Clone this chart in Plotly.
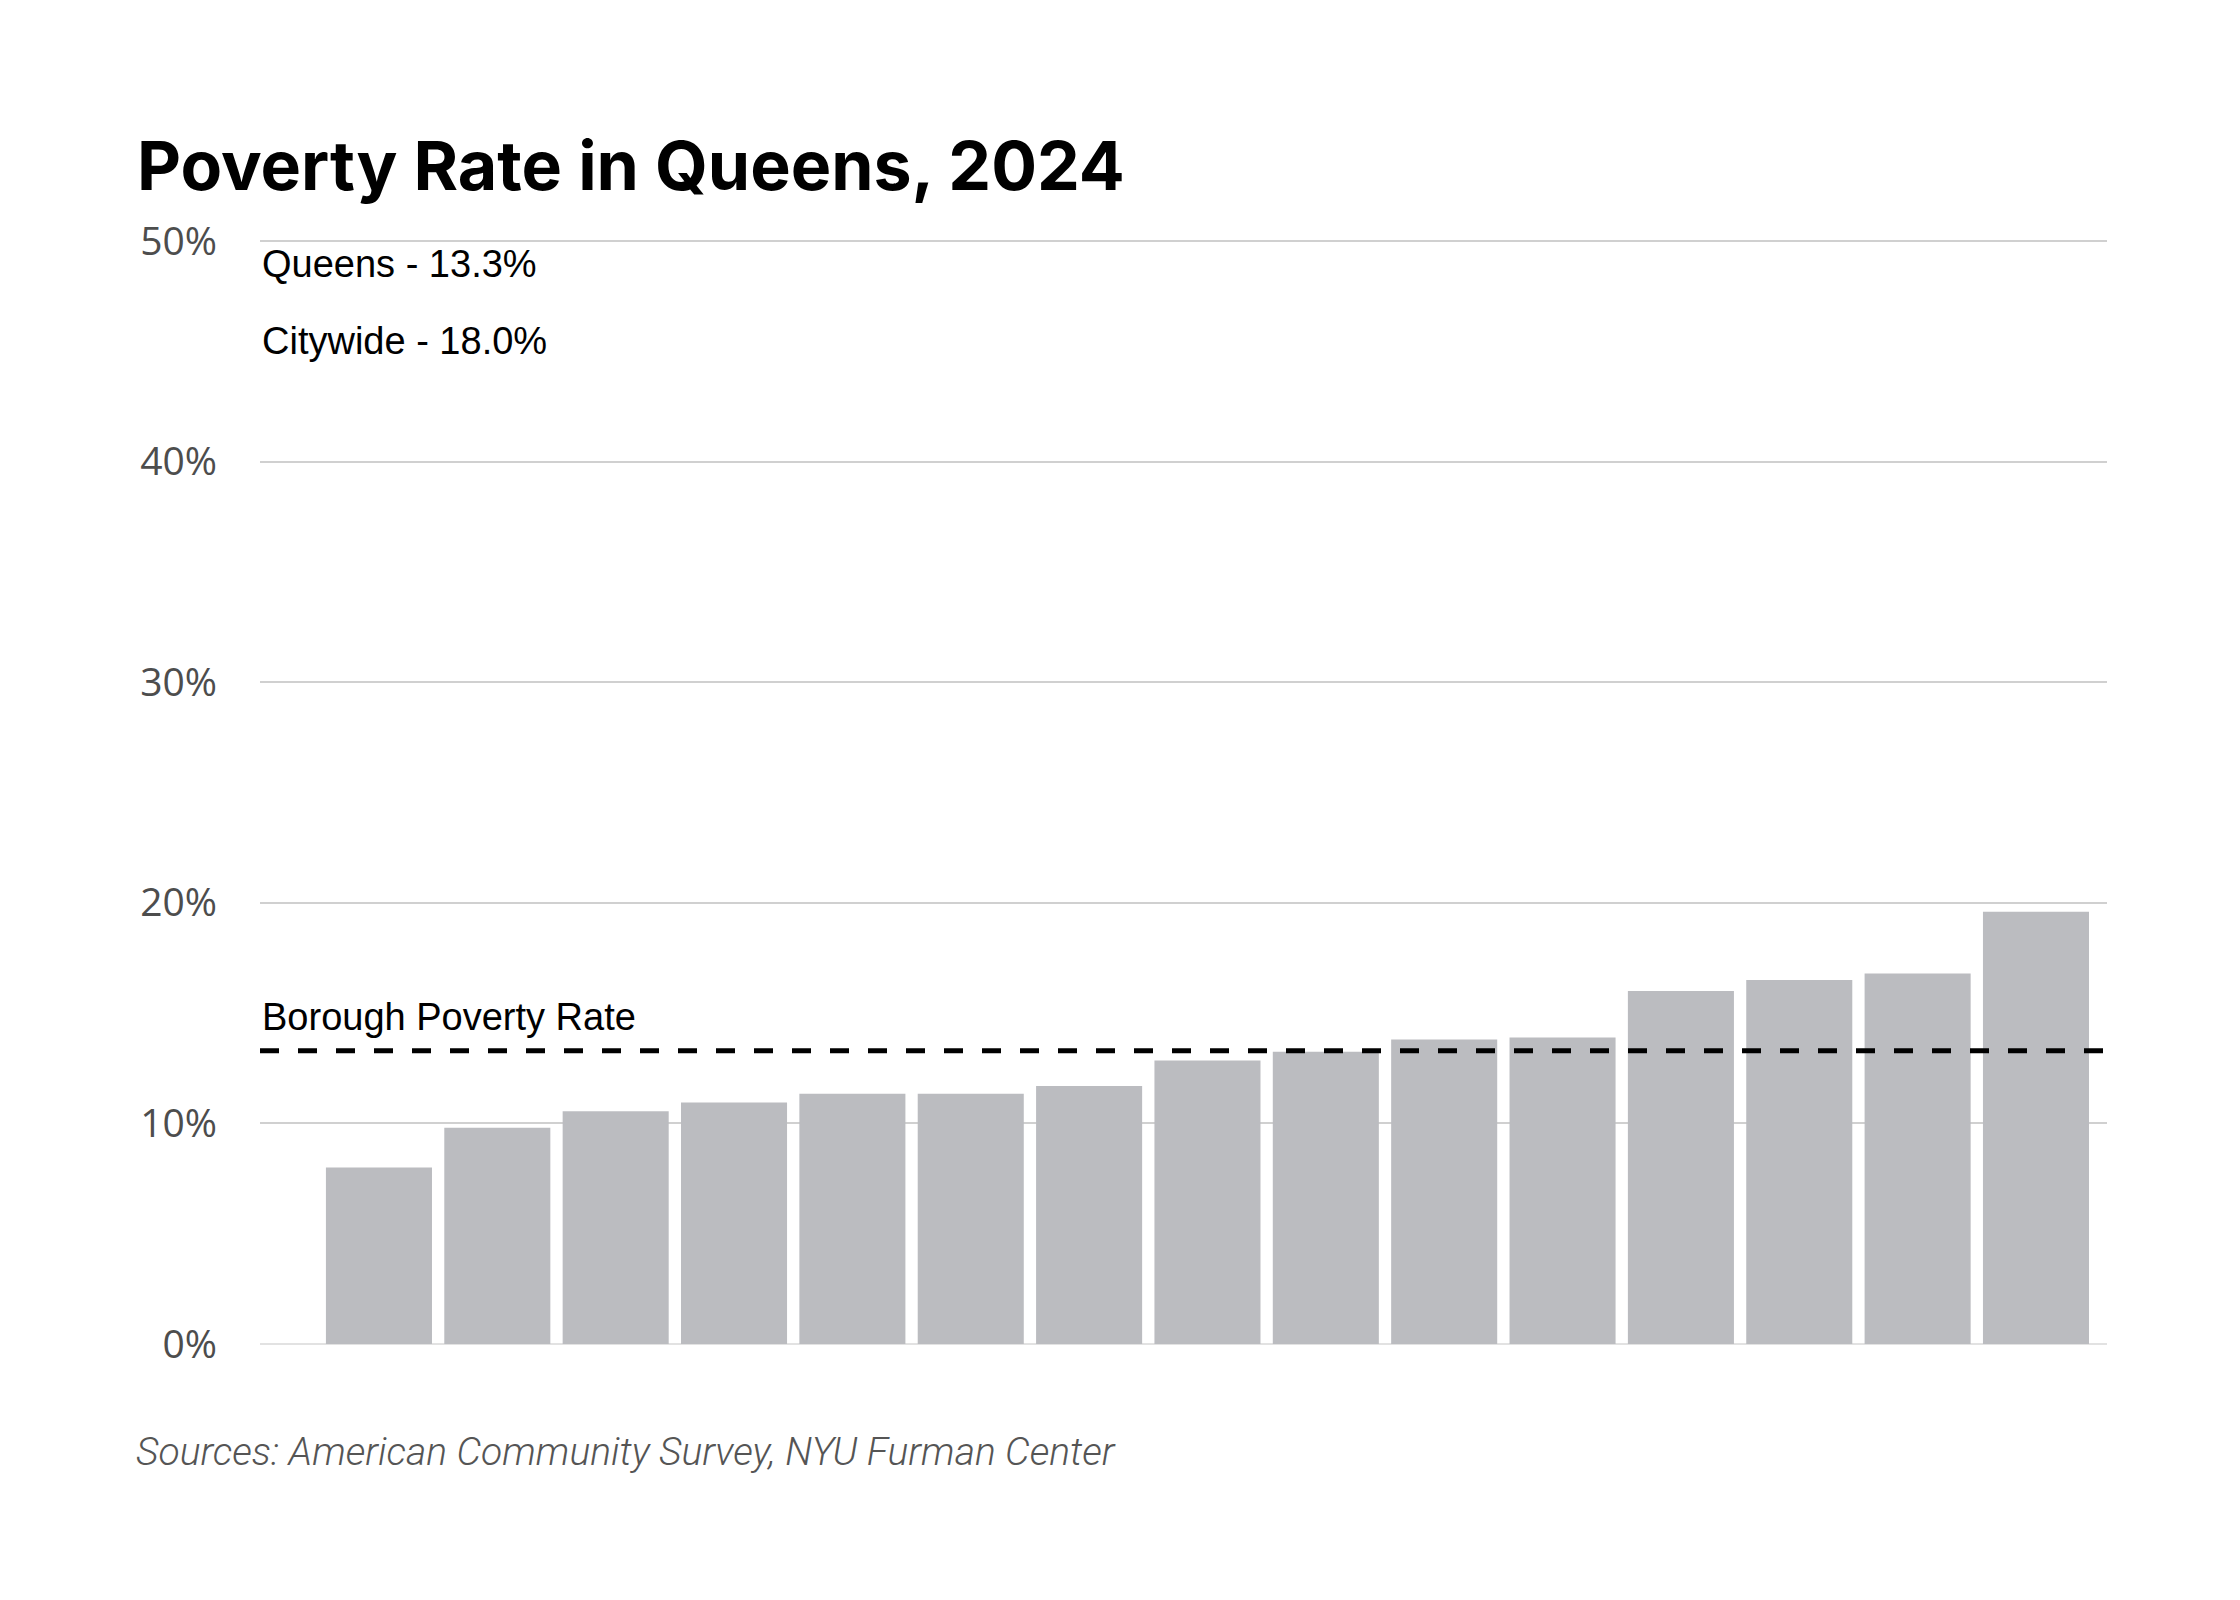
import plotly.graph_objects as go

# ---- data ----
districts = [f"District {i}" for i in range(1, 16)]
poverty_rate = [8.0, 9.8, 10.55, 10.95, 11.35, 11.35, 11.7, 12.85, 13.25, 13.8, 13.9, 16.0, 16.5, 16.8, 19.6]
borough_rate = 13.3
citywide_rate = 18.0
borough_name = "Queens"
y_ticks = [0, 10, 20, 30, 40, 50]
y_tick_labels = ["0%", "10%", "20%", "30%", "40%", "50%"]

# page offset from default body margin
OFF = 8
W, H = 2240 - 2 * OFF, 1600 - 2 * OFF
# plot area in page pixels
L, R, T, B = 260, 2107, 240, 1344
pw, ph = R - L, B - T

def px_x(p):
    return (p - L) / pw

def px_y(p):
    return (B - p) / ph

fig = go.Figure()
fig.add_trace(go.Bar(
    x=districts, y=poverty_rate,
    marker=dict(color="#bbbcc0", line=dict(width=0)),
    hoverinfo="skip", showlegend=False,
))

fig.add_shape(type="line", xref="paper", x0=0, x1=1, yref="y", y0=borough_rate, y1=borough_rate,
              line=dict(color="black", width=5, dash="19px,19px"), layer="above")

ann_font = dict(family="Liberation Sans, Arial", size=38, color="black")
fig.add_annotation(xref="paper", yref="paper", x=0, y=px_y(264), xanchor="left", yanchor="middle",
                   text=f"{borough_name} - {borough_rate:.1f}%", showarrow=False, font=ann_font)
fig.add_annotation(xref="paper", yref="paper", x=0, y=px_y(341), xanchor="left", yanchor="middle",
                   text=f"Citywide - {citywide_rate:.1f}%", showarrow=False, font=ann_font)
fig.add_annotation(xref="paper", yref="paper", x=0, y=px_y(1017), xanchor="left", yanchor="middle",
                   text="Borough Poverty Rate", showarrow=False, font=ann_font)
fig.add_annotation(xref="paper", yref="paper", x=px_x(134), y=px_y(1452), xanchor="left", yanchor="middle",
                   text="Sources: American Community Survey, NYU Furman Center", showarrow=False,
                   font=dict(family="Roboto", size=39, color="#555555", style="italic", weight=300))

fig.update_layout(
    width=W, height=H,
    margin=dict(l=L - OFF, r=W + OFF - R, t=T - OFF, b=H + OFF - B, pad=0),
    paper_bgcolor="white", plot_bgcolor="white",
    bargap=0.104,
    title=dict(text="<b>Poverty Rate in Queens, 2024</b>", x=(137 - OFF) / W, xanchor="left",
               xref="container", y=1 - (166 - OFF) / H, yanchor="middle", yref="container",
               font=dict(family="Inter", size=68, color="black")),
    xaxis=dict(range=[-1.005, 14.6], showticklabels=False, showgrid=False, zeroline=False,
               showline=False, ticks=""),
    yaxis=dict(range=[0, 50.05], tickvals=y_ticks, ticktext=y_tick_labels, showgrid=True,
               gridcolor="#d0d0d0", gridwidth=2, zeroline=True, zerolinecolor="#e2e2e2",
               zerolinewidth=2, showline=False, ticks="", ticklabelstandoff=42,
               tickfont=dict(family="Open Sans", size=39, color="#4d4d4d")),
)

fig.write_html("out.html")
